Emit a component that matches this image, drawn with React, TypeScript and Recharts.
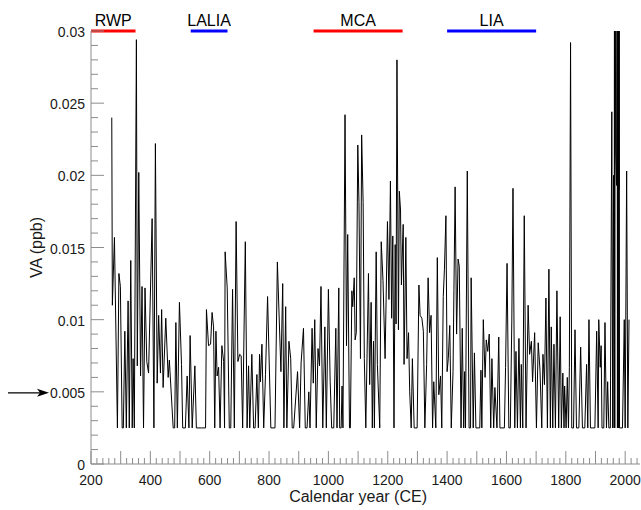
import { Line, LineChart, ReferenceLine, XAxis, YAxis } from "recharts";

// sample years (CE) and VA concentration (ppb); 0.0025 is the floor value
const years = [
  270, 272, 279, 289, 294, 299, 305, 309, 314, 319, 325, 329, 334, 339, 342, 346, 353, 356, 361, 367,
  372, 377, 382, 388, 394, 406, 412, 417, 423, 428, 434, 438, 443, 452, 460, 464, 477, 482, 486, 491,
  498, 505, 509, 518, 524, 530, 534, 541, 550, 555, 561, 572, 586, 589, 596, 603, 608, 613, 617, 621,
  625, 630, 635, 641, 647, 650, 652, 659, 666, 671, 677, 683, 689, 695, 701, 706, 711, 720, 726, 731,
  735, 742, 748, 753, 759, 764, 768, 771, 776, 782, 788, 795, 806, 820, 828, 840, 846, 850, 856, 860,
  867, 873, 878, 883, 896, 903, 908, 916, 922, 928, 934, 938, 945, 949, 954, 959, 965, 970, 975, 981,
  988, 993, 1000, 1006, 1011, 1018, 1025, 1029, 1035, 1038, 1043, 1046, 1049, 1056, 1061, 1065, 1071, 1074, 1079, 1082,
  1087, 1090, 1094, 1099, 1103, 1108, 1112, 1117, 1121, 1126, 1135, 1139, 1144, 1148, 1152, 1155, 1161, 1165, 1173, 1178,
  1184, 1191, 1199, 1204, 1209, 1213, 1217, 1221, 1225, 1228, 1231, 1236, 1239, 1243, 1246, 1252, 1255, 1261, 1265, 1270,
  1274, 1279, 1283, 1289, 1295, 1299, 1305, 1309, 1315, 1320, 1325, 1331, 1336, 1341, 1346, 1351, 1355, 1362, 1367, 1372,
  1378, 1382, 1387, 1391, 1396, 1400, 1404, 1409, 1414, 1420, 1423, 1427, 1432, 1437, 1441, 1447, 1451, 1456, 1459, 1462,
  1468, 1474, 1479, 1481, 1488, 1492, 1497, 1504, 1510, 1514, 1517, 1522, 1528, 1532, 1537, 1542, 1547, 1551, 1557, 1561,
  1568, 1574, 1578, 1585, 1593, 1597, 1602, 1608, 1613, 1618, 1622, 1628, 1632, 1637, 1642, 1647, 1650, 1655, 1660, 1666,
  1673, 1678, 1684, 1688, 1695, 1701, 1707, 1713, 1719, 1723, 1728, 1733, 1738, 1743, 1748, 1751, 1756, 1760, 1765, 1770,
  1776, 1781, 1785, 1790, 1794, 1796, 1801, 1805, 1809, 1812, 1816, 1820, 1826, 1831, 1836, 1844, 1850, 1856, 1864, 1870,
  1874, 1878, 1883, 1889, 1898, 1904, 1909, 1911, 1916, 1919, 1922, 1928, 1932, 1937, 1941, 1945, 1950, 1955, 1958, 1961,
  1963, 1964, 1965, 1966, 1968, 1971, 1973, 1974, 1975, 1977, 1978, 1979, 1980, 1981, 1986, 1991, 1997, 2000, 2005, 2009,
  2013,
];

const vaValues = [
  0.024, 0.011, 0.0157, 0.0025, 0.0132, 0.0123, 0.0025, 0.0025, 0.0092, 0.0025, 0.0113, 0.0025, 0.0141, 0.0025, 0.0073, 0.0025, 0.0294, 0.0068, 0.0202, 0.0061,
  0.0123, 0.0025, 0.0122, 0.0071, 0.0063, 0.017, 0.0025, 0.0222, 0.0056, 0.0103, 0.0063, 0.0107, 0.0053, 0.0101, 0.006, 0.0072, 0.0025, 0.0025, 0.0098, 0.0025,
  0.0112, 0.0069, 0.0025, 0.0025, 0.0061, 0.0025, 0.0089, 0.0025, 0.0068, 0.0025, 0.0025, 0.0025, 0.0025, 0.0107, 0.0082, 0.0083, 0.0105, 0.0095, 0.0025, 0.0092,
  0.0061, 0.0067, 0.0025, 0.0082, 0.0071, 0.0025, 0.0147, 0.0122, 0.0025, 0.0025, 0.0121, 0.0025, 0.0168, 0.0071, 0.0076, 0.0075, 0.0025, 0.0154, 0.0025, 0.0068,
  0.0025, 0.0076, 0.0025, 0.0025, 0.0062, 0.0025, 0.0076, 0.0057, 0.0083, 0.0025, 0.0062, 0.0116, 0.0025, 0.0025, 0.014, 0.0064, 0.0125, 0.0025, 0.0109, 0.0025,
  0.0085, 0.0073, 0.0025, 0.0025, 0.0064, 0.0025, 0.007, 0.0094, 0.0025, 0.0025, 0.005, 0.0025, 0.0094, 0.0056, 0.01, 0.0025, 0.008, 0.0068, 0.0123, 0.0025,
  0.0095, 0.0025, 0.0121, 0.0057, 0.0025, 0.0025, 0.0094, 0.0025, 0.0122, 0.0025, 0.0025, 0.0054, 0.0025, 0.0242, 0.0082, 0.0159, 0.0025, 0.0025, 0.012, 0.0109,
  0.0129, 0.0086, 0.0091, 0.0221, 0.0181, 0.0073, 0.0228, 0.0181, 0.0073, 0.0025, 0.0132, 0.0055, 0.0112, 0.0025, 0.0085, 0.0025, 0.0147, 0.0069, 0.0025, 0.0154,
  0.0127, 0.0073, 0.0168, 0.0114, 0.0196, 0.0101, 0.0158, 0.0025, 0.0152, 0.0097, 0.028, 0.0093, 0.0189, 0.0176, 0.0124, 0.0166, 0.0069, 0.0157, 0.0073, 0.0091,
  0.005, 0.0025, 0.0073, 0.0025, 0.0025, 0.0025, 0.0124, 0.0103, 0.0101, 0.0092, 0.0025, 0.0069, 0.0129, 0.0091, 0.0103, 0.0025, 0.0057, 0.0025, 0.0143, 0.0048,
  0.0061, 0.0025, 0.0116, 0.0135, 0.0172, 0.0064, 0.0073, 0.0096, 0.0025, 0.0064, 0.012, 0.0192, 0.009, 0.0142, 0.0137, 0.0025, 0.0094, 0.0025, 0.0064, 0.0025,
  0.0203, 0.0025, 0.0025, 0.0129, 0.0025, 0.0077, 0.0025, 0.0025, 0.0025, 0.0065, 0.0025, 0.01, 0.006, 0.0086, 0.0078, 0.009, 0.0025, 0.0073, 0.0025, 0.0053,
  0.0025, 0.0088, 0.0025, 0.0025, 0.0025, 0.0067, 0.0139, 0.0025, 0.0025, 0.0099, 0.0191, 0.0025, 0.0078, 0.0025, 0.0087, 0.0025, 0.0069, 0.0025, 0.0172, 0.0025,
  0.011, 0.0076, 0.0085, 0.0057, 0.0091, 0.0025, 0.0084, 0.0065, 0.0025, 0.0076, 0.0055, 0.0115, 0.0025, 0.0135, 0.0025, 0.0095, 0.0025, 0.0083, 0.0025, 0.012,
  0.0025, 0.0102, 0.0025, 0.0063, 0.0025, 0.0054, 0.0025, 0.006, 0.0025, 0.0067, 0.0292, 0.0025, 0.0025, 0.0093, 0.0025, 0.0025, 0.0081, 0.0025, 0.0025, 0.0069,
  0.0025, 0.01, 0.0025, 0.0025, 0.0025, 0.0092, 0.0025, 0.01, 0.0067, 0.0082, 0.0025, 0.0025, 0.0098, 0.0025, 0.0057, 0.0025, 0.0025, 0.0244, 0.0025, 0.02,
  0.0025, 0.04, 0.0025, 0.04, 0.0217, 0.0193, 0.04, 0.0025, 0.04, 0.0025, 0.04, 0.019, 0.04, 0.0025, 0.0025, 0.0025, 0.01, 0.0025, 0.0203, 0.0025,
  0.01,
];

// climate periods drawn along the top
const periodNames = ["RWP", "LALIA", "MCA", "LIA"];
const periodStart = [200, 536, 950, 1400];
const periodEnd = [350, 660, 1250, 1700];
const periodColors = ["#ff0000", "#0000ff", "#ff0000", "#0000ff"];

const yMajorTicks = [0, 0.005, 0.01, 0.015, 0.02, 0.025, 0.03];
const yTicks: number[] = [];
for (let i = 0; i <= 30; i++) yTicks.push(i / 1000);
const xLabelTicks = [200, 400, 600, 800, 1000, 1200, 1400, 1600, 1800, 2000];
const xTicks: number[] = [];
for (let v = 200; v <= 2040; v += 20) xTicks.push(v);

const arrowValue = 0.005;

const data = years.map((year, i) => ({ year, va: vaValues[i] }));

const FONT = "'Liberation Sans', Arial, sans-serif";
const AXIS_GREY = "#8c8c8c";

function YTick(props: any) {
  const { x, y, payload } = props;
  const v = payload.value as number;
  const major = yMajorTicks.some((m) => Math.abs(m - v) < 1e-9);
  return (
    <g>
      <line x1={x} x2={x + (major ? 13 : 7)} y1={y} y2={y} stroke={AXIS_GREY} strokeWidth={1} />
      {major ? (
        <text x={x - 6} y={y + 1} textAnchor="end" dominantBaseline="central" fontFamily={FONT} fontSize={14} fill="#1a1a1a">
          {v === 0 ? "0" : String(+v.toFixed(3))}
        </text>
      ) : null}
      {Math.abs(v - arrowValue) < 1e-9 ? (
        <g>
          <line x1={x - 83} x2={x - 50} y1={y + 1} y2={y + 1} stroke="#000" strokeWidth={1.2} />
          <polygon
            points={`${x - 42},${y + 1} ${x - 54},${y - 3} ${x - 51},${y + 1} ${x - 54},${y + 5}`}
            fill="#000"
          />
        </g>
      ) : null}
    </g>
  );
}

function XTick(props: any) {
  const { x, y, payload } = props;
  const v = payload.value as number;
  const major = v % 100 === 0;
  return (
    <g>
      <line x1={x} x2={x} y1={y} y2={y - (major ? 13 : 6)} stroke={AXIS_GREY} strokeWidth={1} />
      {xLabelTicks.includes(v) ? (
        <text x={x} y={y + 16} textAnchor="middle" dominantBaseline="central" fontFamily={FONT} fontSize={14} fill="#1a1a1a">
          {v}
        </text>
      ) : null}
    </g>
  );
}

function YTitle(props: any) {
  const vb = props.viewBox;
  const cx = vb.x + 36;
  const cy = vb.y + vb.height / 2;
  return (
    <text x={cx} y={cy} transform={`rotate(-90 ${cx} ${cy})`} textAnchor="middle" dominantBaseline="central" fontFamily={FONT} fontSize={16} fill="#1a1a1a">
      VA (ppb)
    </text>
  );
}

function XTitle(props: any) {
  const vb = props.viewBox;
  // centred under the 200–2000 span
  const cx = vb.x + vb.width * ((1100 - 200) / (2050 - 200));
  return (
    <text x={cx} y={vb.y + 32} textAnchor="middle" dominantBaseline="central" fontFamily={FONT} fontSize={16} fill="#1a1a1a">
      Calendar year (CE)
    </text>
  );
}

export default function App() {
  return (
    <div style={{ position: "absolute", left: 0, top: 0, width: 641, height: 510, background: "#fff" }}>
      <LineChart width={641} height={510} data={data} margin={{ top: 31, right: 1, left: 0, bottom: 0 }}>
        <XAxis
          dataKey="year"
          type="number"
          domain={[200, 2050]}
          allowDataOverflow
          ticks={xTicks}
          interval={0}
          tickLine={false}
          tickSize={0}
          tickMargin={0}
          height={46}
          axisLine={{ stroke: AXIS_GREY }}
          tick={(p: any) => <XTick {...p} />}
          label={{ content: (p: any) => <XTitle {...p} /> }}
        />
        <YAxis
          type="number"
          domain={[0, 0.03]}
          allowDataOverflow
          ticks={yTicks}
          interval={0}
          tickLine={false}
          tickSize={0}
          tickMargin={0}
          width={91}
          axisLine={{ stroke: AXIS_GREY }}
          tick={(p: any) => <YTick {...p} />}
          label={{ content: (p: any) => <YTitle {...p} /> }}
        />
        <Line
          type="linear"
          dataKey="va"
          stroke="#000"
          strokeWidth={1}
          dot={false}
          activeDot={false}
          isAnimationActive={false}
        />
        {periodNames.map((name, i) => (
          <ReferenceLine
            key={name}
            segment={[
              { x: periodStart[i], y: 0.03 },
              { x: periodEnd[i], y: 0.03 },
            ]}
            stroke={periodColors[i]}
            strokeWidth={3}
            ifOverflow="visible"
            label={{ value: name, position: "top", offset: 5, fill: "#000", fontSize: 16, fontFamily: FONT }}
          />
        ))}
      </LineChart>
    </div>
  );
}
